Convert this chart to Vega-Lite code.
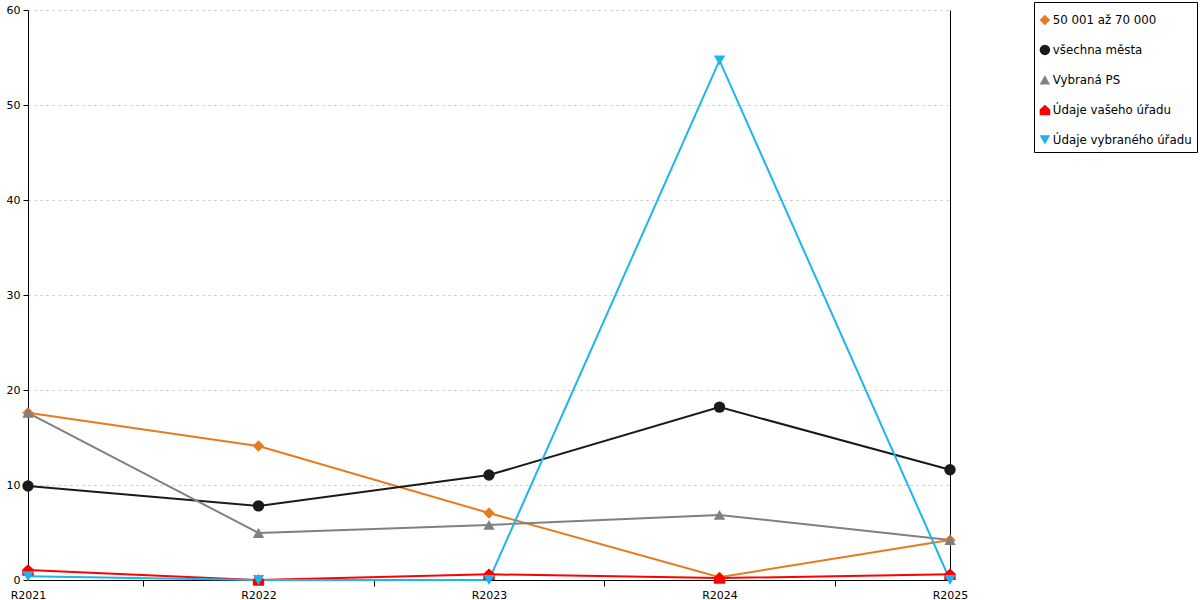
{
  "$schema": "https://vega.github.io/schema/vega-lite/v6.json",
  "autosize": {"type": "none"},
  "width": 922,
  "height": 570,
  "padding": {"left": 28, "top": 10, "right": 250, "bottom": 20},
  "background": "#ffffff",
  "config": {
    "font": "DejaVu Sans",
    "view": {"stroke": null},
    "axis": {"labelFont": "DejaVu Sans", "labelFontSize": 11, "labelColor": "#000000", "domainColor": "#000000", "tickColor": "#000000"},
    "legend": {
      "orient": "none",
      "legendX": 1006,
      "legendY": -8,
      "strokeColor": "#000000",
      "fillColor": "#ffffff",
      "padding": 5,
      "titleFontSize": 1,
      "titlePadding": 6,
      "rowPadding": 17,
      "labelFontSize": 11.8,
      "labelFont": "DejaVu Sans",
      "labelColor": "#000000",
      "symbolSize": 110,
      "symbolStrokeWidth": 0,
      "labelOffset": 2,
      "labelLimit": 300
    }
  },
  "data": {
    "values": [
      {"rok": "R2021", "rada": "50 001 až 70 000", "hodnota": 17.6},
      {"rok": "R2022", "rada": "50 001 až 70 000", "hodnota": 14.1},
      {"rok": "R2023", "rada": "50 001 až 70 000", "hodnota": 7.05},
      {"rok": "R2024", "rada": "50 001 až 70 000", "hodnota": 0.3},
      {"rok": "R2025", "rada": "50 001 až 70 000", "hodnota": 4.2},
      {"rok": "R2021", "rada": "všechna města", "hodnota": 9.9},
      {"rok": "R2022", "rada": "všechna města", "hodnota": 7.8},
      {"rok": "R2023", "rada": "všechna města", "hodnota": 11.05},
      {"rok": "R2024", "rada": "všechna města", "hodnota": 18.2},
      {"rok": "R2025", "rada": "všechna města", "hodnota": 11.6},
      {"rok": "R2021", "rada": "Vybraná PS", "hodnota": 17.6},
      {"rok": "R2022", "rada": "Vybraná PS", "hodnota": 4.95},
      {"rok": "R2023", "rada": "Vybraná PS", "hodnota": 5.8},
      {"rok": "R2024", "rada": "Vybraná PS", "hodnota": 6.85},
      {"rok": "R2025", "rada": "Vybraná PS", "hodnota": 4.2},
      {"rok": "R2021", "rada": "Údaje vašeho úřadu", "hodnota": 1.05},
      {"rok": "R2022", "rada": "Údaje vašeho úřadu", "hodnota": 0},
      {"rok": "R2023", "rada": "Údaje vašeho úřadu", "hodnota": 0.6},
      {"rok": "R2024", "rada": "Údaje vašeho úřadu", "hodnota": 0.2},
      {"rok": "R2025", "rada": "Údaje vašeho úřadu", "hodnota": 0.6},
      {"rok": "R2021", "rada": "Údaje vybraného úřadu", "hodnota": 0.4},
      {"rok": "R2022", "rada": "Údaje vybraného úřadu", "hodnota": 0},
      {"rok": "R2023", "rada": "Údaje vybraného úřadu", "hodnota": 0},
      {"rok": "R2024", "rada": "Údaje vybraného úřadu", "hodnota": 54.7},
      {"rok": "R2025", "rada": "Údaje vybraného úřadu", "hodnota": 0}
    ]
  },
  "encoding": {
    "x": {
      "field": "rok",
      "type": "ordinal",
      "sort": null,
      "scale": {"type": "point", "padding": 0},
      "axis": {
        "title": null,
        "labelAngle": 0,
        "labelPadding": 3,
        "tickSize": 6,
        "tickOffset": 115.25,
        "labelOffset": -115.25,
        "tickOpacity": {"condition": {"test": "datum.value == 'R2025'", "value": 0}, "value": 1},
        "grid": false
      }
    },
    "y": {
      "field": "hodnota",
      "type": "quantitative",
      "scale": {"domain": [0, 60], "nice": false},
      "title": null
    },
    "color": {
      "field": "rada",
      "type": "nominal",
      "title": " ",
      "scale": {
        "domain": ["50 001 až 70 000", "všechna města", "Vybraná PS", "Údaje vašeho úřadu", "Údaje vybraného úřadu"],
        "range": ["#E67A1E", "#1a1a1a", "#808080", "#FF0000", "#1CB5EE"]
      }
    }
  },
  "layer": [
    {
      "mark": {"type": "line", "strokeWidth": 2},
      "encoding": {
        "y": {
          "field": "hodnota",
          "type": "quantitative",
          "axis": {
            "values": [0, 10, 20, 30, 40, 50, 60],
            "tickSize": 5,
            "labelPadding": 3,
            "grid": true,
            "gridColor": "#c0c0c0",
            "gridDash": [2, 4],
            "gridOpacity": {"condition": {"test": "datum.value == 0", "value": 0}, "value": 1}
          }
        }
      }
    },
    {
      "mark": {"type": "point", "filled": true, "opacity": 1, "size": 130},
      "encoding": {
        "y": {
          "field": "hodnota",
          "type": "quantitative",
          "axis": {"orient": "right", "labels": false, "ticks": false, "grid": false, "domainColor": "#000000"}
        },
        "shape": {
          "field": "rada",
          "type": "nominal",
          "title": " ",
          "scale": {
            "domain": ["50 001 až 70 000", "všechna města", "Vybraná PS", "Údaje vašeho úřadu", "Údaje vybraného úřadu"],
            "range": ["diamond", "circle", "triangle-up", "M-1,1L-1,-0.1L0,-1L1,-0.1L1,1Z", "triangle-down"]
          }
        }
      }
    }
  ],
  "resolve": {"axis": {"y": "independent"}}
}
